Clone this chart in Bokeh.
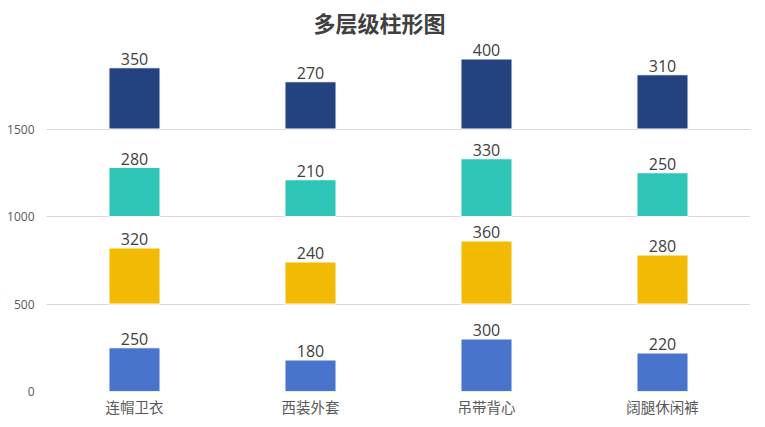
from bokeh.plotting import figure
from bokeh.models import ColumnDataSource, FixedTicker, Range1d, FactorRange
from bokeh.core.properties import value
from bokeh.embed import file_html
from bokeh.resources import INLINE

categories = ["连帽卫衣", "西装外套", "吊带背心", "阔腿休闲裤"]
layer1 = [250, 180, 300, 220]
layer2 = [320, 240, 360, 280]
layer3 = [280, 210, 330, 250]
layer4 = [350, 270, 400, 310]
layer_base = [0, 500, 1000, 1500]
layer_colors = ["#4874CB", "#F2BA02", "#2EC4B6", "#24427F"]
y_ticks = [0, 500, 1000, 1500]

p = figure(width=757, height=419, x_range=FactorRange(*categories),
           y_range=Range1d(0, 2000), output_backend="svg", toolbar_location=None,
           title="多层级柱形图")
p.min_border_left = 46
p.min_border_right = 7
p.min_border_bottom = 10
p.min_border_top = 10
p.outline_line_color = None

p.title.align = "left"
p.title.offset = 267
p.title.standoff = 7
p.title.text_font = "Noto Sans CJK SC"
p.title.text_font_size = "22px"
p.title.text_font_style = "bold"
p.title.text_color = "#404040"

for vals, base, color in zip([layer1, layer2, layer3, layer4], layer_base, layer_colors):
    src = ColumnDataSource(dict(
        x=categories,
        bottom=[base] * len(vals),
        top=[base + v for v in vals],
        label=[str(v) for v in vals],
    ))
    p.vbar(x="x", bottom="bottom", top="top", width=0.29, source=src,
           fill_color=color, line_color="white", line_width=1)
    p.text(x="x", y="top", text="label", source=src, text_align="center",
           text_baseline="bottom", text_font=value("Open Sans"),
           text_font_size="16px", text_color="#404040", y_offset=-3)

p.yaxis.ticker = FixedTicker(ticks=y_ticks)
p.yaxis.axis_line_color = None
p.yaxis.major_tick_line_color = None
p.yaxis.minor_tick_line_color = None
p.yaxis.major_tick_out = 0
p.yaxis.major_tick_in = 0
p.yaxis.minor_tick_out = 0
p.yaxis.major_label_text_font = "Open Sans"
p.yaxis.major_label_text_font_size = "12px"
p.yaxis.major_label_text_color = "#595959"
p.yaxis.major_label_standoff = 12

p.xaxis.axis_line_color = None
p.xaxis.major_tick_line_color = None
p.xaxis.minor_tick_line_color = None
p.xaxis.major_tick_out = 0
p.xaxis.major_tick_in = 0
p.xaxis.minor_tick_out = 0
p.xaxis.major_label_text_font = "Noto Sans CJK SC"
p.xaxis.major_label_text_font_size = "14.5px"
p.xaxis.major_label_text_color = "#595959"
p.xaxis.major_label_standoff = 4

p.xgrid.grid_line_color = None
p.ygrid.ticker = FixedTicker(ticks=y_ticks)
p.ygrid.grid_line_color = "#D9D9D9"
p.ygrid.grid_line_width = 1

open("out.html", "w").write(file_html(p, INLINE))
